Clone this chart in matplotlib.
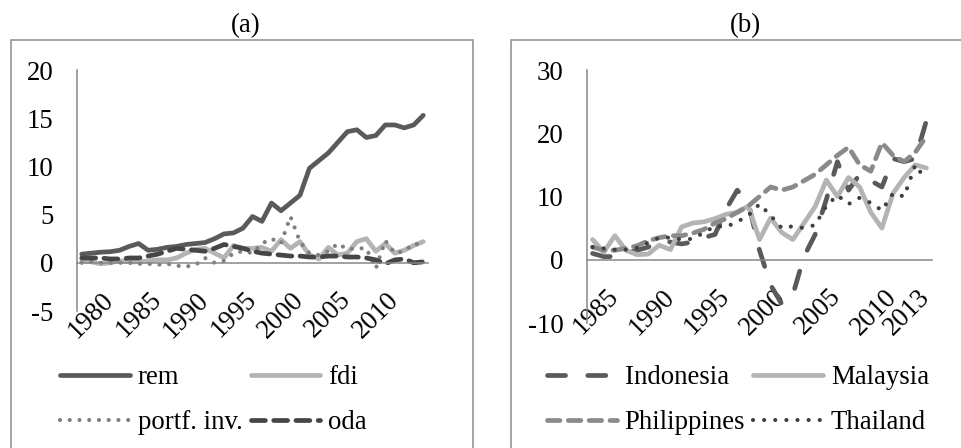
import matplotlib
matplotlib.use("Agg")
import matplotlib.pyplot as plt
from matplotlib.patches import Rectangle

plt.rcParams['font.family'] = ['Liberation Serif', 'DejaVu Serif']
plt.rcParams['lines.scale_dashes'] = False

# ---------------- data ----------------
years_a = list(range(1977, 2014))
rem = [0.9, 1.0, 1.1, 1.15, 1.3, 1.7, 2.0, 1.3, 1.4, 1.6,
       1.7, 1.9, 2.0, 2.1, 2.5, 3.0, 3.1, 3.6, 4.8, 4.3,
       6.2, 5.4, 6.2, 7.0, 9.8, 10.6, 11.4, 12.5, 13.6, 13.8,
       13.0, 13.2, 14.3, 14.3, 14.0, 14.3, 15.3]
fdi = [0.2, 0.1, -0.1, 0.0, 0.2, 0.1, 0.1, 0.2, 0.3, 0.3,
       0.5, 1.0, 1.4, 1.5, 1.0, 0.5, 1.8, 1.5, 1.5, 1.6,
       1.2, 2.4, 1.5, 2.2, 0.8, 0.4, 1.6, 0.8, 1.0, 2.2,
       2.5, 1.2, 2.0, 1.0, 1.3, 1.8, 2.2]
portf = [0.0, 0.1, 0.0, 0.0, 0.0, 0.0, -0.1, -0.1, -0.2, -0.1,
         -0.3, -0.4, -0.2, 0.5, 0.0, 0.2, 1.0, 1.2, 1.0, 2.0,
         2.5, 2.0, 4.8, 2.2, 1.0, 0.8, 1.2, 2.0, 1.4, 1.5,
         1.5, -0.6, 2.3, 1.0, 1.2, 2.0, 1.8]
oda = [0.5, 0.5, 0.5, 0.4, 0.4, 0.5, 0.5, 0.7, 0.9, 1.2,
       1.5, 1.4, 1.3, 1.2, 1.5, 1.9, 1.7, 1.5, 1.2, 1.0,
       0.9, 0.8, 0.7, 0.7, 0.6, 0.6, 0.7, 0.7, 0.6, 0.6,
       0.5, 0.3, -0.1, 0.3, 0.4, 0.0, 0.1]
ticks_a = [1980, 1985, 1990, 1995, 2000, 2005, 2010]

years_b = list(range(1983, 2014))
indonesia = [1.0, 0.5, 0.5, 1.0, 1.5, 2.0, 3.0, 2.8, 2.5, 2.8,
             3.5, 4.0, 8.0, 11.0, 9.0, 1.5, -4.0, -7.0, -5.5, 0.5,
             4.0, 9.5, 15.5, 11.0, 13.5, 12.5, 11.5, 16.0, 15.5, 16.0,
             22.0]
malaysia = [3.2, 1.2, 3.8, 1.5, 0.8, 0.9, 2.3, 1.6, 5.2, 5.8,
            6.0, 6.5, 7.2, 7.5, 8.5, 3.2, 6.6, 4.3, 3.2, 5.8,
            8.4, 12.6, 10.0, 13.0, 11.5, 7.5, 5.0, 10.5, 13.0, 15.0,
            14.5]
philippines = [2.0, 1.5, 1.5, 1.8, 2.2, 3.0, 3.5, 3.8, 3.8, 4.2,
               4.8, 5.8, 6.5, 7.5, 8.5, 10.0, 11.5, 11.0, 11.5, 12.5,
               13.5, 15.0, 16.5, 17.8, 15.0, 14.0, 18.5, 16.5, 15.5, 17.0,
               19.5]
thailand = [2.0, 1.8, 1.6, 1.6, 1.9, 2.7, 3.5, 3.5, 3.2, 3.3,
            4.3, 5.3, 5.2, 6.0, 7.0, 8.8, 7.0, 5.0, 5.3, 5.0,
            5.5, 8.5, 10.2, 8.8, 9.8, 9.0, 7.8, 10.5, 10.0, 15.0,
            12.5]
ticks_b = [1985, 1990, 1995, 2000, 2005, 2010, 2013]

# ---------------- figure ----------------
W, H = 962, 448
fig = plt.figure(figsize=(W / 100, H / 100), dpi=100)
FS = 19.3
AXC = '#888888'

def fx(px):
    return px / W

def fy(py):
    return 1 - py / H

# chart-area boxes
fig.patches.append(Rectangle((fx(10.5), fy(460)), fx(463), fy(40.5) - fy(460),
                             transform=fig.transFigure, fill=False,
                             edgecolor='#8c8c8c', lw=1.1))
fig.patches.append(Rectangle((fx(511), fy(460)), fx(470), fy(40.5) - fy(460),
                             transform=fig.transFigure, fill=False,
                             edgecolor='#8c8c8c', lw=1.1))
fig.text(fx(246), fy(26), '(a)', ha='center', va='center', fontsize=FS)
fig.text(fx(745), fy(26), '(b)', ha='center', va='center', fontsize=FS)

ax1 = fig.add_axes([fx(77), fy(311), fx(428 - 77), fy(70) - fy(311)])
ax2 = fig.add_axes([fx(587), fy(323), fx(932 - 587), fy(70) - fy(323)])

def style(ax, xlim, ylim, yticks, xticks):
    ax.set_xlim(*xlim)
    ax.set_ylim(*ylim)
    for s in ('top', 'right'):
        ax.spines[s].set_visible(False)
    ax.spines['bottom'].set_position(('data', 0))
    for s in ('left', 'bottom'):
        ax.spines[s].set_color(AXC)
        ax.spines[s].set_linewidth(1.1)
    ax.set_yticks(yticks)
    ax.set_yticklabels([str(v) for v in yticks], fontsize=FS)
    ax.set_xticks(xticks)
    ax.set_xticklabels([str(v) for v in xticks], fontsize=FS, rotation=45,
                       ha='right', va='center', rotation_mode='anchor')
    ax.tick_params(axis='y', length=0, pad=17)
    ax.tick_params(axis='x', length=0, pad=24)
    ax.patch.set_visible(False)

style(ax1, (1976.5, 2013.5), (-5, 20), [-5, 0, 5, 10, 15, 20], ticks_a)
style(ax2, (1982.5, 2013.5), (-10, 30), [-10, 0, 10, 20, 30], ticks_b)

LW = 3.4
h1, = ax1.plot(years_a, rem, color='#5a5a5a', lw=LW, solid_capstyle='round',
               solid_joinstyle='round', label='rem')
h2, = ax1.plot(years_a, fdi, color='#b4b4b4', lw=LW, solid_capstyle='round',
               solid_joinstyle='round', label='fdi')
h3, = ax1.plot(years_a, portf, color='#7f7f7f', lw=3.0, dashes=(0.01, 7.0),
               dash_capstyle='round', label='portf. inv.')
h4, = ax1.plot(years_a, oda, color='#464646', lw=LW, dashes=(10, 6),
               dash_capstyle='round', label='oda')

g1, = ax2.plot(years_b, indonesia, color='#5a5a5a', lw=LW, dashes=(13, 16),
               dash_capstyle='round', label='Indonesia')
g2, = ax2.plot(years_b, malaysia, color='#b4b4b4', lw=LW, solid_capstyle='round',
               solid_joinstyle='round', label='Malaysia')
g3, = ax2.plot(years_b, philippines, color='#8a8a8a', lw=LW, dashes=(9, 6),
               dash_capstyle='round', label='Philippines')
g4, = ax2.plot(years_b, thailand, color='#404040', lw=3.0, dashes=(0.01, 8.0),
               dash_capstyle='round', label='Thailand')

leg_kw = dict(ncol=2, frameon=False, fontsize=FS, handlelength=2.6,
              handletextpad=0.3, columnspacing=0.3, labelspacing=0.75,
              borderpad=0, borderaxespad=0, loc='upper left')
fig.legend(handles=[h1, h3, h2, h4], bbox_to_anchor=(fx(60), fy(365)), **leg_kw)
fig.legend(handles=[g1, g3, g2, g4], bbox_to_anchor=(fx(547), fy(365)), **leg_kw)

fig.savefig('out.png', dpi=100)
